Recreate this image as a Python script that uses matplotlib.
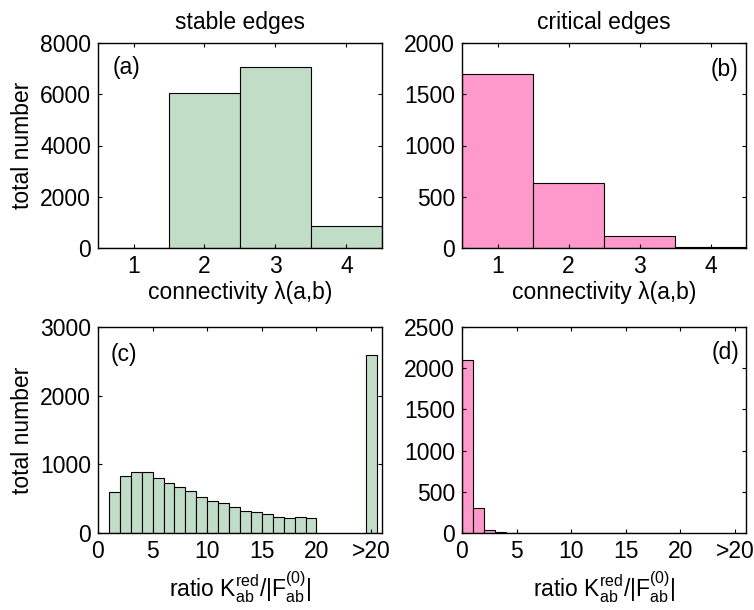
import numpy as np
import matplotlib
matplotlib.use("Agg")
import matplotlib.pyplot as plt

plt.rcParams['font.family'] = ['Liberation Sans', 'DejaVu Sans']
plt.rcParams['mathtext.fontset'] = 'custom'
plt.rcParams['mathtext.rm'] = 'Liberation Sans'
plt.rcParams['mathtext.it'] = 'Liberation Sans:italic'
plt.rcParams['font.size'] = 16.5

# connectivity histograms (top row)
conn = [1, 2, 3, 4]
stable_conn = [8, 6050, 7080, 875]
critical_conn = [1700, 634, 120, 6]

# ratio histograms (bottom row): unit bins [0,1], [1,2], ..., [19,20] plus an overflow bin
ratio_left = np.arange(0, 20)
stable_ratio = [0, 590, 824, 888, 888, 800, 727, 669, 606, 518, 460,
                430, 375, 325, 305, 280, 232, 220, 230, 220]
stable_over = 2585
critical_ratio = [2094, 303, 32, 12, 3, 2, 0, 0, 0, 0, 0,
                  0, 0, 0, 0, 0, 0, 0, 0, 0]
critical_over = 0
over_pos = 25
ratio_ticks = [0, 5, 10, 15, 20, 25]
ratio_ticklabels = ['0', '5', '10', '15', '20', '>20']

green = '#c2ddc7'
pink = '#ff99cb'

fig = plt.figure(figsize=(7.54, 6.10), dpi=100)
W, H = 754, 610


def axes_px(left, top, right, bottom):
    return fig.add_axes([left / W, 1 - bottom / H, (right - left) / W, (bottom - top) / H])


def style(ax):
    ax.tick_params(direction='in', length=3, width=0.8, top=True, right=True,
                   pad=5, labelsize=16.5)
    for s in ax.spines.values():
        s.set_linewidth(1.0)


ax_a = axes_px(98, 43, 382, 248)
ax_b = axes_px(462, 43, 746, 248)
ax_c = axes_px(98, 327, 382, 533)
ax_d = axes_px(462, 327, 746, 533)

# top row: connectivity
for ax, vals, col in [(ax_a, stable_conn, green), (ax_b, critical_conn, pink)]:
    ax.bar(conn, vals, width=1.0, color=col, edgecolor='black', linewidth=0.8)
    ax.set_xlim(0.5, 4.5)
    ax.set_xticks(conn)
    ax.set_xlabel('connectivity λ(a,b)', labelpad=2)
    style(ax)

ax_a.set_ylim(0, 8000)
ax_a.set_yticks(np.arange(0, 8001, 2000))
ax_b.set_ylim(0, 2000)
ax_b.set_yticks(np.arange(0, 2001, 500))

# bottom row: ratio K_red / |F0|
for ax, vals, over, col in [(ax_c, stable_ratio, stable_over, green),
                            (ax_d, critical_ratio, critical_over, pink)]:
    ax.bar(ratio_left, vals, width=1.0, align='edge', color=col,
           edgecolor='black', linewidth=0.8)
    if over > 0:
        ax.bar([over_pos], [over], width=1.0, color=col,
               edgecolor='black', linewidth=0.8)
    ax.set_xlim(0, 26)
    ax.set_xticks(ratio_ticks)
    ax.set_xticklabels(ratio_ticklabels)
    ax.set_xlabel(r'ratio K$^{\rm red}_{\rm ab}$/|F$^{(0)}_{\rm ab}$|', labelpad=5)
    style(ax)

ax_c.set_ylim(0, 3000)
ax_c.set_yticks(np.arange(0, 3001, 1000))
ax_d.set_ylim(0, 2500)
ax_d.set_yticks(np.arange(0, 2501, 500))

ax_a.set_ylabel('total number', labelpad=4)
ax_c.set_ylabel('total number', labelpad=4)

ax_a.set_title('stable edges', fontsize=16.5, pad=10)
ax_b.set_title('critical edges', fontsize=16.5, pad=10)

ax_a.text(0.053, 0.88, '(a)', transform=ax_a.transAxes, ha='left', va='center')
ax_b.text(0.972, 0.87, '(b)', transform=ax_b.transAxes, ha='right', va='center')
ax_c.text(0.045, 0.865, '(c)', transform=ax_c.transAxes, ha='left', va='center')
ax_d.text(0.975, 0.875, '(d)', transform=ax_d.transAxes, ha='right', va='center')

fig.savefig('out.png', dpi=100)
